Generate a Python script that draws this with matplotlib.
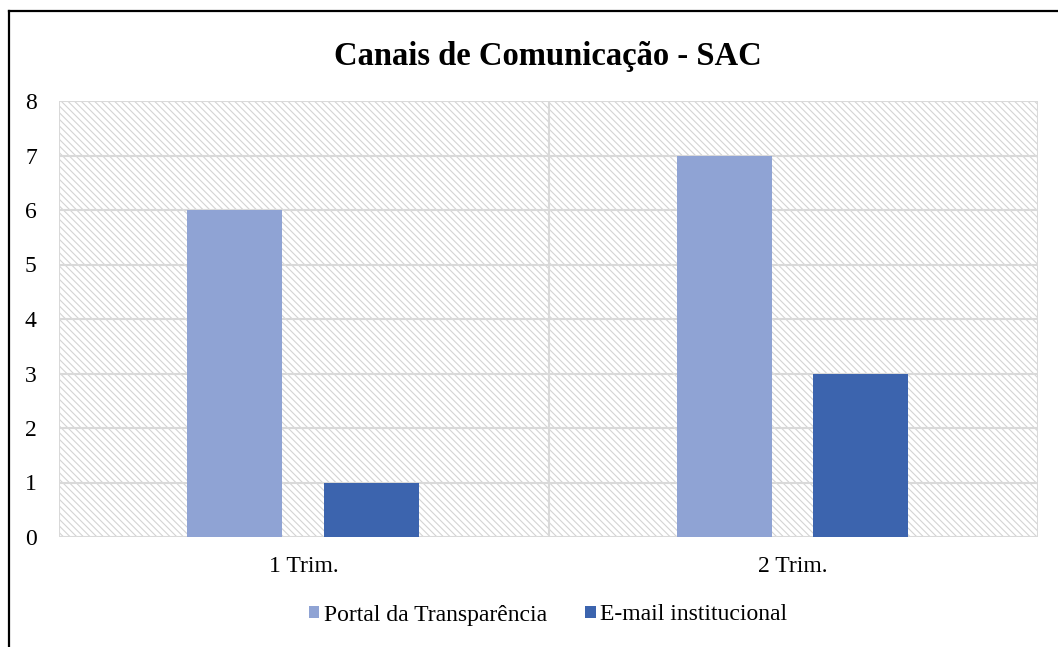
import numpy as np
import matplotlib
matplotlib.use('Agg')
from matplotlib import pyplot as plt
from matplotlib.lines import Line2D

categories = ['1 Trim.', '2 Trim.']
series_names = ['Portal da Transparência', 'E-mail institucional']
portal = [6, 7]
email = [1, 3]
colors = ['#8FA3D4', '#3C64AE']

plt.rcParams['font.family'] = ['Liberation Serif', 'DejaVu Serif']
plt.rcParams['hatch.linewidth'] = 0.8
plt.rcParams['hatch.color'] = '#d4d4d4'

fig = plt.figure(figsize=(10.58, 6.47), dpi=100)
ax = fig.add_axes([59 / 1058, 1 - 537 / 647, (1038 - 59) / 1058, (537 - 101) / 647])

# hatched plot background
ax.patch.set_facecolor('white')
ax.patch.set_hatch('\\' * 5)
ax.patch.set_edgecolor('#d4d4d4')

x = np.arange(len(categories))
w = 0.194
ax.bar(x - 0.141, portal, w, color=colors[0], label=series_names[0], zorder=3)
ax.bar(x + 0.138, email, w, color=colors[1], label=series_names[1], zorder=3)

ax.set_xlim(-0.5, 1.5)
ax.set_ylim(0, 8)
ax.set_yticks(range(0, 9))
ax.set_xticks(x)
ax.set_xticklabels(categories)

# gridlines: horizontal at each unit, vertical at category borders
ax.set_xticks([-0.5, 0.5, 1.5], minor=True)
ax.grid(axis='y', color='#d9d9d9', linewidth=1.5, zorder=1)
ax.grid(axis='x', which='minor', color='#d9d9d9', linewidth=1.5, zorder=1)
ax.set_axisbelow(True)
for s in ax.spines.values():
    s.set_visible(False)
ax.tick_params(axis='both', which='both', length=0, labelsize=17)
ax.tick_params(axis='y', pad=16)
ax.tick_params(axis='x', pad=14)

fig.text(548 / 1058, 1 - 56 / 647, 'Canais de Comunicação - SAC', ha='center', va='center',
         fontsize=23.5, fontweight='bold')

ax.legend(loc='center', bbox_to_anchor=(548 / 1058, 1 - 615 / 647), bbox_transform=fig.transFigure,
          ncol=2, frameon=False, fontsize=17, handlelength=0.45, handleheight=0.45,
          handletextpad=0.2, columnspacing=1.6)

# chart border (top and left edge visible)
fig.add_artist(Line2D([9 / 1058, 9 / 1058], [0, 1 - 11 / 647], color='black', linewidth=1.6,
                      transform=fig.transFigure))
fig.add_artist(Line2D([9 / 1058, 1], [1 - 11 / 647, 1 - 11 / 647], color='black', linewidth=1.6,
                      transform=fig.transFigure))

fig.savefig('out.png', dpi=100)
